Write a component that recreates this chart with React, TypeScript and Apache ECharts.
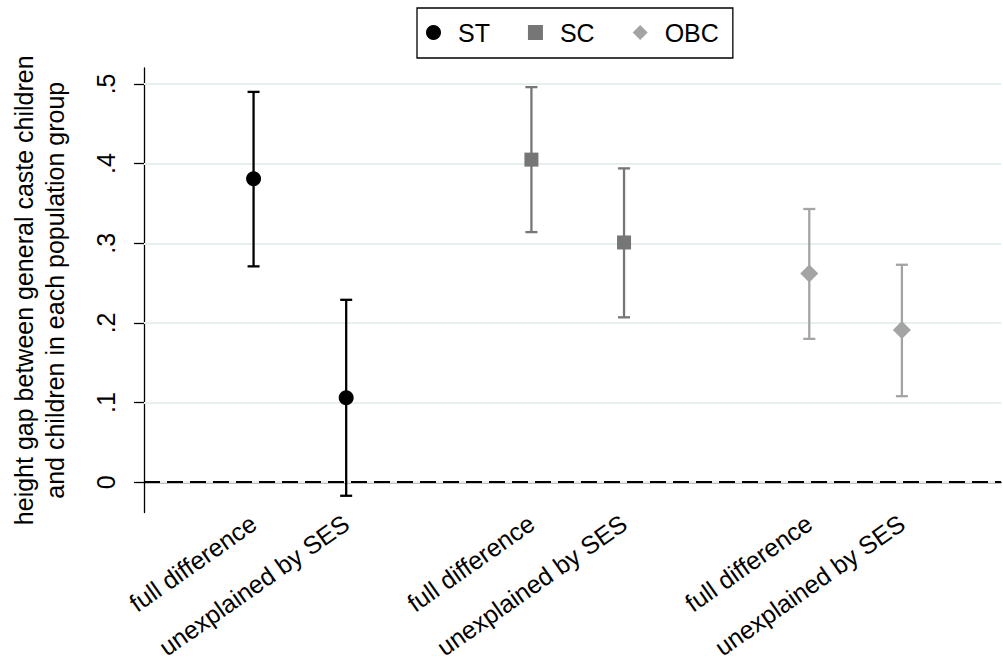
import React, { useEffect, useRef } from "react";
import * as echarts from "echarts";

const FONT = '"Liberation Sans", Arial, Helvetica, sans-serif';

// x-axis category labels and their positions on the value axis
const xLabels = ["full difference", "unexplained by SES"];
const stPos = [1, 2];
const scPos = [4, 5];
const obcPos = [7, 8];

// y tick values
const yTicks = [0, 0.1, 0.2, 0.3, 0.4, 0.5];
const refLine = 0;

// point estimates and 95% CIs
const stPoint = [0.381, 0.106];
const stLow = [0.271, -0.017];
const stHigh = [0.49, 0.229];

const scPoint = [0.405, 0.301];
const scLow = [0.314, 0.207];
const scHigh = [0.496, 0.394];

const obcPoint = [0.262, 0.191];
const obcLow = [0.18, 0.108];
const obcHigh = [0.343, 0.273];

const groups = [
  { name: "ST", pos: stPos, point: stPoint, low: stLow, high: stHigh, color: "#000000", symbol: "circle", size: 15 },
  { name: "SC", pos: scPos, point: scPoint, low: scLow, high: scHigh, color: "#767676", symbol: "rect", size: 14 },
  { name: "OBC", pos: obcPos, point: obcPoint, low: obcLow, high: obcHigh, color: "#a4a4a4", symbol: "diamond", size: 18 },
];

const allPos = [...stPos, ...scPos, ...obcPos];
const labelFor = (v: number) => {
  const i = allPos.findIndex((p) => Math.abs(p - v) < 1e-6);
  return i >= 0 ? xLabels[i % 2] : "";
};

export default function App() {
  const ref = useRef<HTMLDivElement>(null);
  useEffect(() => {
    if (!ref.current) return;
    const chart = echarts.init(ref.current, null, { renderer: "svg" });
    const series: any[] = [];
    // gridlines followed by the dashed reference line (drawn last, on top)
    series.push({
      name: "grid",
      type: "scatter",
      data: [],
      z: 0,
      silent: true,
      markLine: {
        z: 1,
        silent: true,
        symbol: ["none", "none"],
        label: { show: false },
        animation: false,
        lineStyle: { color: "#e8eff1", width: 1.8, type: "solid" },
        data: [
          ...yTicks.map((t) => ({ yAxis: t })),
          { yAxis: refLine, lineStyle: { color: "#000000", width: 2.2, type: [16, 7] } },
        ],
      },
    });
    groups.forEach((g) => {
      series.push({
        name: g.name + " CI",
        type: "custom",
        z: 3,
        encode: { x: 0, y: [1, 2] },
        data: g.pos.map((p, i) => [p, g.low[i], g.high[i]]),
        renderItem: (params: any, api: any) => {
          const x = api.value(0);
          const pLo = api.coord([x, api.value(1)]);
          const pHi = api.coord([x, api.value(2)]);
          const half = 6;
          const style = { stroke: g.color, lineWidth: 2.3 };
          return {
            type: "group",
            children: [
              { type: "line", shape: { x1: pLo[0], y1: pLo[1], x2: pHi[0], y2: pHi[1] }, style },
              { type: "line", shape: { x1: pLo[0] - half, y1: pLo[1], x2: pLo[0] + half, y2: pLo[1] }, style },
              { type: "line", shape: { x1: pHi[0] - half, y1: pHi[1], x2: pHi[0] + half, y2: pHi[1] }, style },
            ],
          };
        },
      });
      series.push({
        name: g.name,
        type: "scatter",
        z: 6,
        symbol: g.symbol,
        symbolSize: g.size,
        itemStyle: { color: g.color, opacity: 1 },
        data: g.pos.map((p, i) => [p, g.point[i]]),
      });
    });

    chart.setOption({
      animation: false,
      backgroundColor: "#ffffff",
      textStyle: { fontFamily: FONT },
      grid: { left: 139, right: 2, top: 68, bottom: 158.5, containLabel: false },
      legend: {
        data: ["ST", "SC", "OBC"],
        left: 417,
        top: 8,
        orient: "horizontal",
        itemWidth: 15,
        itemHeight: 15,
        itemGap: 38,
        padding: [12, 14, 13, 9],
        borderColor: "#000000",
        borderWidth: 1.3,
        backgroundColor: "#ffffff",
        selectedMode: false,
        textStyle: { fontSize: 25, fontFamily: FONT, color: "#000000", padding: [0, 0, 0, 12] },
      },
      xAxis: {
        type: "value",
        min: -0.183,
        max: 9.07,
        splitLine: { show: false },
        axisTick: { show: false },
        axisLine: { show: true, lineStyle: { color: "#000000", width: 1.3 } },
        axisLabel: {
          customValues: allPos,
          formatter: (v: number) => labelFor(v),
          rotate: 35,
          margin: 8,
          fontSize: 25,
          fontFamily: FONT,
          color: "#000000",
        },
      },
      yAxis: {
        type: "value",
        min: -0.038,
        max: 0.52,
        name: "height gap between general caste children\nand children in each population group",
        nameLocation: "middle",
        nameRotate: 90,
        nameGap: 74,
        nameTextStyle: { fontSize: 25, fontFamily: FONT, color: "#000000", lineHeight: 31 },
        splitLine: { show: false },
        axisLine: { show: true, onZero: false, lineStyle: { color: "#000000", width: 1.3 } },
        axisTick: { show: true, customValues: yTicks, length: 10, lineStyle: { color: "#000000", width: 1.3 } },
        axisLabel: {
          customValues: yTicks,
          rotate: 90,
          margin: 26,
          fontSize: 25,
          fontFamily: FONT,
          color: "#000000",
          formatter: (v: number) => (Math.abs(v) < 1e-9 ? "0" : v.toFixed(1).replace(/^0/, "")),
        },
      },
      series,
    });
    return () => chart.dispose();
  }, []);
  return (
    <div
      ref={ref}
      style={{ position: "absolute", left: 0, top: 0, width: 1003, height: 671, background: "#fff" }}
    />
  );
}
